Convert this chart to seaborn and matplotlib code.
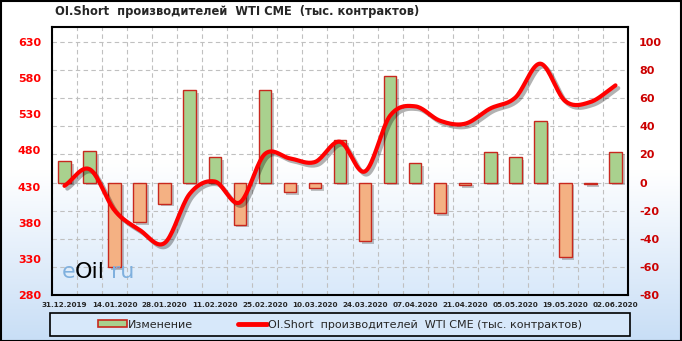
import numpy as np
import pandas as pd
import matplotlib
matplotlib.use("Agg")
import matplotlib.pyplot as plt
import matplotlib.patheffects as pe
from matplotlib.patches import Patch, Rectangle
from matplotlib.lines import Line2D
from matplotlib.colors import LinearSegmentedColormap
import seaborn as sns

# ---------------- data ----------------
dates = ["31.12.2019", "07.01.2020", "14.01.2020", "21.01.2020", "28.01.2020",
         "04.02.2020", "11.02.2020", "18.02.2020", "25.02.2020", "03.03.2020",
         "10.03.2020", "17.03.2020", "24.03.2020", "31.03.2020", "07.04.2020",
         "14.04.2020", "21.04.2020", "28.04.2020", "05.05.2020", "12.05.2020",
         "19.05.2020", "26.05.2020", "02.06.2020"]
change = [15, 22.5, -60, -28, -15, 66, 18, -30, 66, -7, -4, 30, -41.5, 76, 14,
          -22, -2, 22, 18, 44, -53, -1, 22]
oi_short = [431, 454, 397, 370, 352, 420, 437, 408, 475, 469, 464, 492, 451,
            528, 541, 521, 517, 538, 553, 600, 548, 547, 570]
left_ticks = [280, 330, 380, 430, 480, 530, 580, 630]
right_ticks = [-80, -60, -40, -20, 0, 20, 40, 60, 80, 100]

title = "OI.Short  производителей  WTI CME  (тыс. контрактов)"
bar_label = "Изменение"
line_label = "OI.Short  производителей  WTI CME (тыс. контрактов)"

df = pd.DataFrame({"date": dates, "change": change,
                   "sign": ["pos" if c >= 0 else "neg" for c in change]})

W, H = 682, 341
sns.set_style("white")
plt.rcParams["font.family"] = ["DejaVu Sans"]
fig = plt.figure(figsize=(W / 100, H / 100), dpi=100)

# figure background gradient
bg = fig.add_axes([0, 0, 1, 1], zorder=-10)
grad = np.linspace(0, 1, 256).reshape(-1, 1)
cm_fig = LinearSegmentedColormap.from_list("f", ["#ffffff", "#ffffff", "#c8def6"])
bg.imshow(grad, cmap=cm_fig, aspect="auto", extent=(0, 1, 0, 1), origin="upper")
bg.set_xlim(0, 1); bg.set_ylim(0, 1)
bg.axis("off")
bg.add_patch(Rectangle((0.5 / W, 0.5 / H), 1 - 1.5 / W, 1 - 1.5 / H, fill=False,
                       edgecolor="black", lw=1.5, transform=bg.transAxes))

# legend box
bg.add_patch(Rectangle((50 / W, 1 - 336 / H), 580 / W, 23 / H, facecolor="#d7e8fa",
                       edgecolor="black", lw=1.2, transform=bg.transAxes))

# main axes
x0, x1, y0, y1 = 52, 628, 27, 295
ax = fig.add_axes([x0 / W, 1 - y1 / H, (x1 - x0) / W, (y1 - y0) / H])
ax.set_facecolor("none")
cm_ax = LinearSegmentedColormap.from_list("a", ["#ffffff", "#ffffff", "#d9e9fa"])
ax.imshow(grad, cmap=cm_ax, aspect="auto", extent=(0, 1, 0, 1), origin="upper",
          transform=ax.transAxes, zorder=-5)

sns.barplot(data=df, x="date", y="change", hue="sign",
            palette={"pos": "#a9d18e", "neg": "#f4b183"}, dodge=False,
            saturation=1, width=0.5, legend=False, ax=ax, zorder=3)
for p in ax.patches:
    p.set_edgecolor("#c8281e")
    p.set_linewidth(1.0)
    p.set_path_effects([pe.withSimplePatchShadow(offset=(2, -2), alpha=0.35,
                                                 shadow_rgbFace="#555555")])

n = len(dates)

# smoothed line (Catmull-Rom through the data points)
xs = np.arange(n, dtype=float)
ys = np.array(oi_short, dtype=float)
px = np.concatenate([[2 * xs[0] - xs[1]], xs, [2 * xs[-1] - xs[-2]]])
py = np.concatenate([[2 * ys[0] - ys[1]], ys, [2 * ys[-1] - ys[-2]]])
sx, sy = [], []
tt = np.linspace(0, 1, 20, endpoint=False)
for i in range(1, len(px) - 2):
    for arr, out in ((px, sx), (py, sy)):
        p0, p1, p2, p3 = arr[i - 1], arr[i], arr[i + 1], arr[i + 2]
        out.extend(0.5 * ((2 * p1) + (-p0 + p2) * tt + (2 * p0 - 5 * p1 + 4 * p2 - p3) * tt ** 2
                          + (-p0 + 3 * p1 - 3 * p2 + p3) * tt ** 3))
sx.append(xs[-1]); sy.append(ys[-1])

ax2 = ax.twinx()
ax2.set_facecolor("none")
line_df = pd.DataFrame({"x": sx, "y": sy})
sns.lineplot(data=line_df, x="x", y="y", ax=ax2, color="#ff0000", lw=3.0,
             sort=False, estimator=None)
ax2.lines[0].set_path_effects([pe.SimpleLineShadow(offset=(2, -2), alpha=0.3),
                               pe.Normal()])
ax2.lines[0].set_solid_capstyle("round")

# --- axis formatting (after twinx, which resets tick sides) ---
ax.set_xlim(-0.5, n - 0.5)
ax.set_ylim(-80, 100 + 15 * 180 / 253)
ax.yaxis.tick_right()
ax.yaxis.set_label_position("right")
ax.set_yticks(right_ticks)
ax.set_yticklabels([str(t) for t in right_ticks])
ax.set_xticks(range(0, n, 2))
ax.set_xticklabels(dates[::2])
ax.set_xticks(np.arange(-0.5, n, 1), minor=True)
ax.set_xlabel(""); ax.set_ylabel("")
ax.tick_params(axis="y", which="both", left=False, labelleft=False, right=False,
               labelright=True, length=0, pad=8, labelsize=8, labelcolor="#cc0000")
for t in ax.get_yticklabels():
    t.set_fontweight("bold")
ax.tick_params(axis="x", which="both", length=0, pad=5, labelsize=5.2)
for t in ax.get_xticklabels():
    t.set_fontweight("bold")
ax.grid(False)
ax.yaxis.grid(True, color="#c0c0c0", linestyle=(0, (4, 3)), lw=0.8)
ax.xaxis.grid(True, which="minor", color="#c0c0c0", linestyle=(0, (4, 3)), lw=0.8)
ax.set_axisbelow(True)
for s in ax.spines.values():
    s.set_visible(True)
    s.set_color("black")
    s.set_linewidth(1.5)

ax2.set_ylim(280, 630 + 15 * 350 / 253)
ax2.set_xlim(-0.5, n - 0.5)
ax2.yaxis.tick_left()
ax2.yaxis.set_label_position("left")
ax2.set_yticks(left_ticks)
ax2.set_yticklabels([str(t) for t in left_ticks])
ax2.tick_params(axis="y", which="both", left=False, labelleft=True, right=False,
                labelright=False, length=0, pad=8, labelsize=8, labelcolor="#ff0000")
for t in ax2.get_yticklabels():
    t.set_fontweight("bold")
ax2.set_xlabel(""); ax2.set_ylabel("")
ax2.grid(False)
for s in ax2.spines.values():
    s.set_visible(False)

# watermark
fig.text(62 / W, 1 - 272 / H, "e", fontsize=16, color="#7fb0de", va="center")
fig.text(75 / W, 1 - 272 / H, "Oil", fontsize=16, color="black", va="center")
fig.text(111 / W, 1 - 272 / H, "ru", fontsize=16, color="#7fb0de", va="center")

# title
fig.text(55 / W, 1 - 12 / H, title, fontsize=8.3, fontweight="bold", va="center",
         ha="left")

# legend
handles = [Patch(facecolor="#a9d18e", edgecolor="#c8281e", lw=1.2),
           Line2D([0], [0], color="#ff0000", lw=3.5)]
fig.legend(handles, [bar_label, line_label], loc="center",
           bbox_to_anchor=(340 / W, 1 - 324.5 / H), ncol=2, frameon=False,
           fontsize=8, handlelength=2.6, handletextpad=0.1, columnspacing=4,
           handleheight=0.6)

fig.savefig("out.png", dpi=100)
